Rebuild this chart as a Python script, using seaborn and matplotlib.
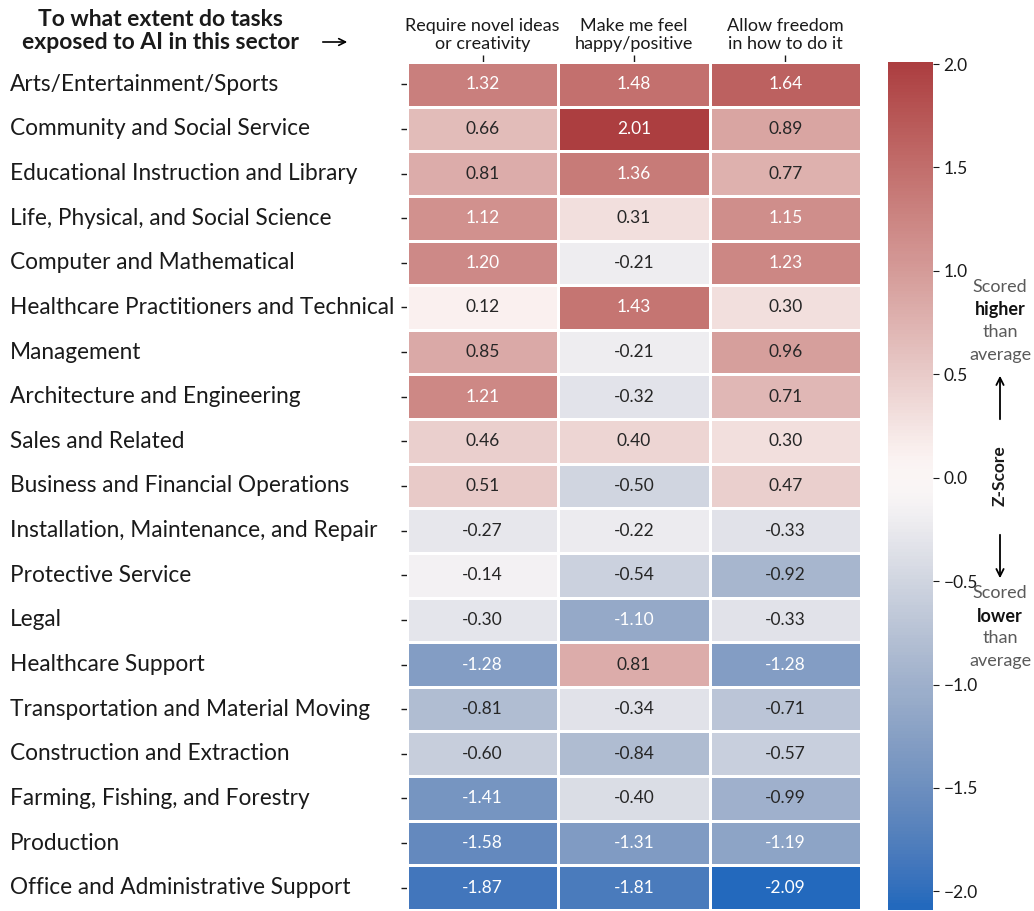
import numpy as np
import pandas as pd
import seaborn as sns
import matplotlib.pyplot as plt
from matplotlib.patches import FancyArrowPatch

sectors = [
    "Arts/Entertainment/Sports",
    "Community and Social Service",
    "Educational Instruction and Library",
    "Life, Physical, and Social Science",
    "Computer and Mathematical",
    "Healthcare Practitioners and Technical",
    "Management",
    "Architecture and Engineering",
    "Sales and Related",
    "Business and Financial Operations",
    "Installation, Maintenance, and Repair",
    "Protective Service",
    "Legal",
    "Healthcare Support",
    "Transportation and Material Moving",
    "Construction and Extraction",
    "Farming, Fishing, and Forestry",
    "Production",
    "Office and Administrative Support",
]
columns = ["Require novel ideas\nor creativity", "Make me feel\nhappy/positive", "Allow freedom\nin how to do it"]

novel = [1.32, 0.66, 0.81, 1.12, 1.20, 0.12, 0.85, 1.21, 0.46, 0.51, -0.27, -0.14, -0.30, -1.28, -0.81, -0.60, -1.41, -1.58, -1.87]
happy = [1.48, 2.01, 1.36, 0.31, -0.21, 1.43, -0.21, -0.32, 0.40, -0.50, -0.22, -0.54, -1.10, 0.81, -0.34, -0.84, -0.40, -1.31, -1.81]
freedom = [1.64, 0.89, 0.77, 1.15, 1.23, 0.30, 0.96, 0.71, 0.30, 0.47, -0.33, -0.92, -0.33, -1.28, -0.71, -0.57, -0.99, -1.19, -2.09]

df = pd.DataFrame({columns[0]: novel, columns[1]: happy, columns[2]: freedom}, index=sectors)

sns.set_style("white")
plt.rcParams['font.family'] = ['Lato', 'DejaVu Sans']
plt.rcParams['text.color'] = '#1a1a1a'
plt.rcParams['xtick.color'] = '#1a1a1a'
plt.rcParams['ytick.color'] = '#1a1a1a'

W, H = 1034, 911
fig = plt.figure(figsize=(W / 100, H / 100), dpi=100)
ax = fig.add_axes([407 / W, 1 - 910 / H, (861 - 407) / W, (910 - 62) / H])
cax = fig.add_axes([888 / W, 1 - 910 / H, 45 / W, (910 - 62) / H])

sns.heatmap(df, ax=ax, cbar_ax=cax, cmap="vlag", center=0, annot=True, fmt=".2f",
            linewidths=1.0, linecolor="white", annot_kws={"fontsize": 12.5})

ax.xaxis.tick_top()
ax.tick_params(axis='x', length=5, width=1, pad=2, labelsize=13, bottom=False, top=True)
plt.setp(ax.get_xticklabels(), rotation=0, ha='center', linespacing=1.2)

ax.tick_params(axis='y', length=4, width=1, labelsize=16.3, left=True, pad=282)
plt.setp(ax.get_yticklabels(), rotation=0, ha='left')
ax.set_xlabel("")
ax.set_ylabel("")

cax.tick_params(labelsize=12.5, length=4)
cax.set_yticks([-2.0, -1.5, -1.0, -0.5, 0.0, 0.5, 1.0, 1.5, 2.0])

fig.text(160 / W, 1 - 31 / H, "To what extent do tasks\nexposed to AI in this sector", ha='center', va='center',
         fontsize=16.5, fontweight='bold', linespacing=1.1)
fig.patches.append(FancyArrowPatch(
    (320 / W, 1 - 42 / H), (350 / W, 1 - 42 / H), transform=fig.transFigure,
    arrowstyle='->', mutation_scale=12, color='black', lw=1.2))

# colorbar side notes
xs = 1000 / W
gray = '#5a5a5a'
for y, txt, bold in [(287, "Scored", False), (310, "higher", True), (332, "than", False), (355, "average", False),
                     (593, "Scored", False), (616, "lower", True), (638, "than", False), (661, "average", False)]:
    fig.text(xs, 1 - y / H, txt, ha='center', va='center', fontsize=13,
             color='#111111' if bold else gray, fontweight='bold' if bold else 'normal')

fig.text(xs, 1 - 476 / H, "Z-Score", ha='center', va='center', fontsize=12.5, fontweight='bold', rotation=90)
fig.patches.append(FancyArrowPatch(
    (xs, 1 - 422 / H), (xs, 1 - 373 / H), transform=fig.transFigure,
    arrowstyle='->', mutation_scale=13, color='black', lw=1.3))
fig.patches.append(FancyArrowPatch(
    (xs, 1 - 532 / H), (xs, 1 - 581 / H), transform=fig.transFigure,
    arrowstyle='->', mutation_scale=13, color='black', lw=1.3))

fig.savefig("out.png", dpi=100)
